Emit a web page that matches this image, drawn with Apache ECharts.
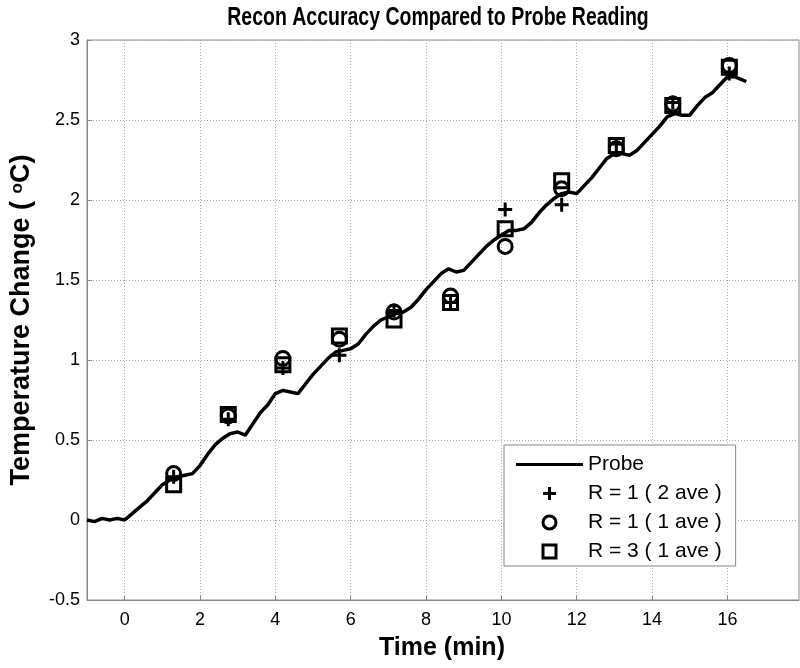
<!DOCTYPE html>
<html><head><meta charset="utf-8">
<script src="https://cdn.jsdelivr.net/npm/echarts@6/dist/echarts.min.js"></script>
<style>html,body{margin:0;padding:0;background:#fff}#c{width:800px;height:668px}</style>
</head><body><div id="c"></div>
<script>
const probeTime = [-1.0,-0.8,-0.6,-0.4,-0.2,0.0,0.2,0.4,0.6,0.8,1.0,1.2,1.4,1.6,1.8,2.0,2.2,2.4,2.6,2.8,3.0,3.2,3.4,3.6,3.8,4.0,4.2,4.4,4.6,4.8,5.0,5.2,5.4,5.6,5.8,6.0,6.2,6.4,6.6,6.8,7.0,7.2,7.4,7.6,7.8,8.0,8.2,8.4,8.6,8.8,9.0,9.2,9.4,9.6,9.8,10.0,10.2,10.4,10.6,10.8,11.0,11.2,11.4,11.6,11.8,12.0,12.2,12.4,12.6,12.8,13.0,13.2,13.4,13.6,13.8,14.0,14.2,14.4,14.6,14.8,15.0,15.2,15.4,15.6,15.8,16.0,16.2,16.4,16.5];
const probeTemp = [0.00,-0.01,0.01,0.00,0.01,0.00,0.04,0.08,0.12,0.17,0.22,0.25,0.27,0.28,0.29,0.34,0.41,0.47,0.51,0.54,0.55,0.53,0.60,0.67,0.72,0.79,0.81,0.80,0.79,0.85,0.91,0.96,1.01,1.05,1.06,1.07,1.10,1.16,1.21,1.25,1.27,1.29,1.30,1.33,1.38,1.44,1.49,1.54,1.57,1.55,1.56,1.61,1.66,1.71,1.75,1.78,1.81,1.81,1.82,1.86,1.92,1.97,2.01,2.04,2.05,2.04,2.09,2.14,2.20,2.26,2.29,2.29,2.28,2.31,2.36,2.41,2.46,2.52,2.54,2.53,2.53,2.59,2.64,2.67,2.72,2.77,2.77,2.75,2.74];
const reconTime = [1.3,2.75,4.2,5.7,7.15,8.65,10.1,11.6,13.05,14.55,16.05];
const r1ave2 = [0.27,0.63,0.95,1.03,1.31,1.36,1.94,1.97,2.35,2.61,2.79];
const r1ave1 = [0.29,0.65,1.01,1.13,1.30,1.40,1.71,2.07,2.32,2.60,2.84];
const r3ave1 = [0.22,0.66,0.97,1.15,1.25,1.36,1.82,2.12,2.34,2.59,2.83];
const xTicks = [0,2,4,6,8,10,12,14,16];
const seriesNames = ['Probe','R = 1 ( 2 ave )','R = 1 ( 1 ave )','R = 3 ( 1 ave )'];

const pair = (xs, ys) => xs.map((x, i) => [x, ys[i]]);
const FONT = '"Liberation Sans", Arial, Helvetica, sans-serif';
const markerStyle = {color: 'rgba(0,0,0,0)', borderColor: '#000', borderWidth: 3, opacity: 1};
const PLUS = 'path://M0,-7L0,7M-7,0L7,0';
const SQUARE = 'path://M-7,-7L7,-7L7,7L-7,7Z';
const CIRCLE = 'circle';

const chart = echarts.init(document.getElementById('c'), null, {renderer: 'canvas'});
chart.setOption({
  animation: false,
  backgroundColor: '#fff',
  grid: {left: 87, right: 1, top: 40, bottom: 68, show: true, borderColor: '#888', borderWidth: 1},
  xAxis: {
    type: 'value', min: -1, max: 17.9,
    axisLine: {show: true, onZero: false, lineStyle: {color: '#888', width: 1}},
    axisTick: {show: true, inside: true, length: 5, lineStyle: {color: '#888'}, customValues: xTicks},
    axisLabel: {customValues: xTicks, color: '#000', fontSize: 18, fontFamily: FONT, margin: 11},
    splitLine: {show: true, lineStyle: {color: '#aaa', type: [1, 2], width: 1}}
  },
  yAxis: {
    type: 'value', min: -0.5, max: 3, interval: 0.5,
    axisLine: {show: true, onZero: false, lineStyle: {color: '#888', width: 1}},
    axisTick: {show: true, inside: true, length: 5, lineStyle: {color: '#888'}},
    axisLabel: {color: '#000', fontSize: 18, fontFamily: FONT, margin: 7},
    splitLine: {show: true, lineStyle: {color: '#aaa', type: [1, 2], width: 1}}
  },
  legend: {
    orient: 'vertical', left: 504, top: 445,
    data: [
      {name: seriesNames[0], icon: 'path://M0,0L67,0L67,3L0,3Z', itemStyle: {color: '#000', borderWidth: 0}},
      {name: seriesNames[1], icon: PLUS, itemStyle: {color: 'rgba(0,0,0,0)', borderColor: '#000', borderWidth: 3}},
      {name: seriesNames[2], icon: CIRCLE, itemStyle: {color: 'rgba(0,0,0,0)', borderColor: '#000', borderWidth: 3}},
      {name: seriesNames[3], icon: SQUARE, itemStyle: {color: 'rgba(0,0,0,0)', borderColor: '#000', borderWidth: 3}}
    ],
    itemWidth: 67, itemHeight: 13, itemGap: 8,
    padding: [9, 14, 4, 12],
    backgroundColor: '#fff', borderColor: '#888', borderWidth: 1,
    textStyle: {color: '#000', fontSize: 21, fontFamily: FONT},
    selectedMode: false
  },
  graphic: [
    {type: 'text', x: 438, y: 18, scaleX: 0.78, style: {text: 'Recon Accuracy Compared to Probe Reading', font: 'bold 25px ' + FONT, fill: '#000', textAlign: 'center', textVerticalAlign: 'middle'}},
    {type: 'text', x: 442, y: 648, style: {text: 'Time (min)', font: 'bold 25px ' + FONT, fill: '#000', textAlign: 'center', textVerticalAlign: 'middle'}},
    {type: 'text', x: 22, y: 320, rotation: Math.PI / 2,
      style: {text: 'Temperature Change ( {sup|o}C)', font: 'bold 27px ' + FONT, fill: '#000', textAlign: 'center', textVerticalAlign: 'middle',
        rich: {sup: {font: 'bold 17px ' + FONT, verticalAlign: 'top', fill: '#000'}}}}
  ],
  series: [
    {name: seriesNames[0], type: 'line', data: pair(probeTime, probeTemp), symbol: 'none', lineStyle: {color: '#000', width: 3.5}, itemStyle: {color: '#000'}, z: 2},
    {name: seriesNames[1], type: 'scatter', data: pair(reconTime, r1ave2), symbol: PLUS, symbolSize: 14, itemStyle: markerStyle, z: 3},
    {name: seriesNames[2], type: 'scatter', data: pair(reconTime, r1ave1), symbol: CIRCLE, symbolSize: 14, itemStyle: markerStyle, z: 3},
    {name: seriesNames[3], type: 'scatter', data: pair(reconTime, r3ave1), symbol: SQUARE, symbolSize: 14, itemStyle: markerStyle, z: 3}
  ]
});
</script></body></html>
